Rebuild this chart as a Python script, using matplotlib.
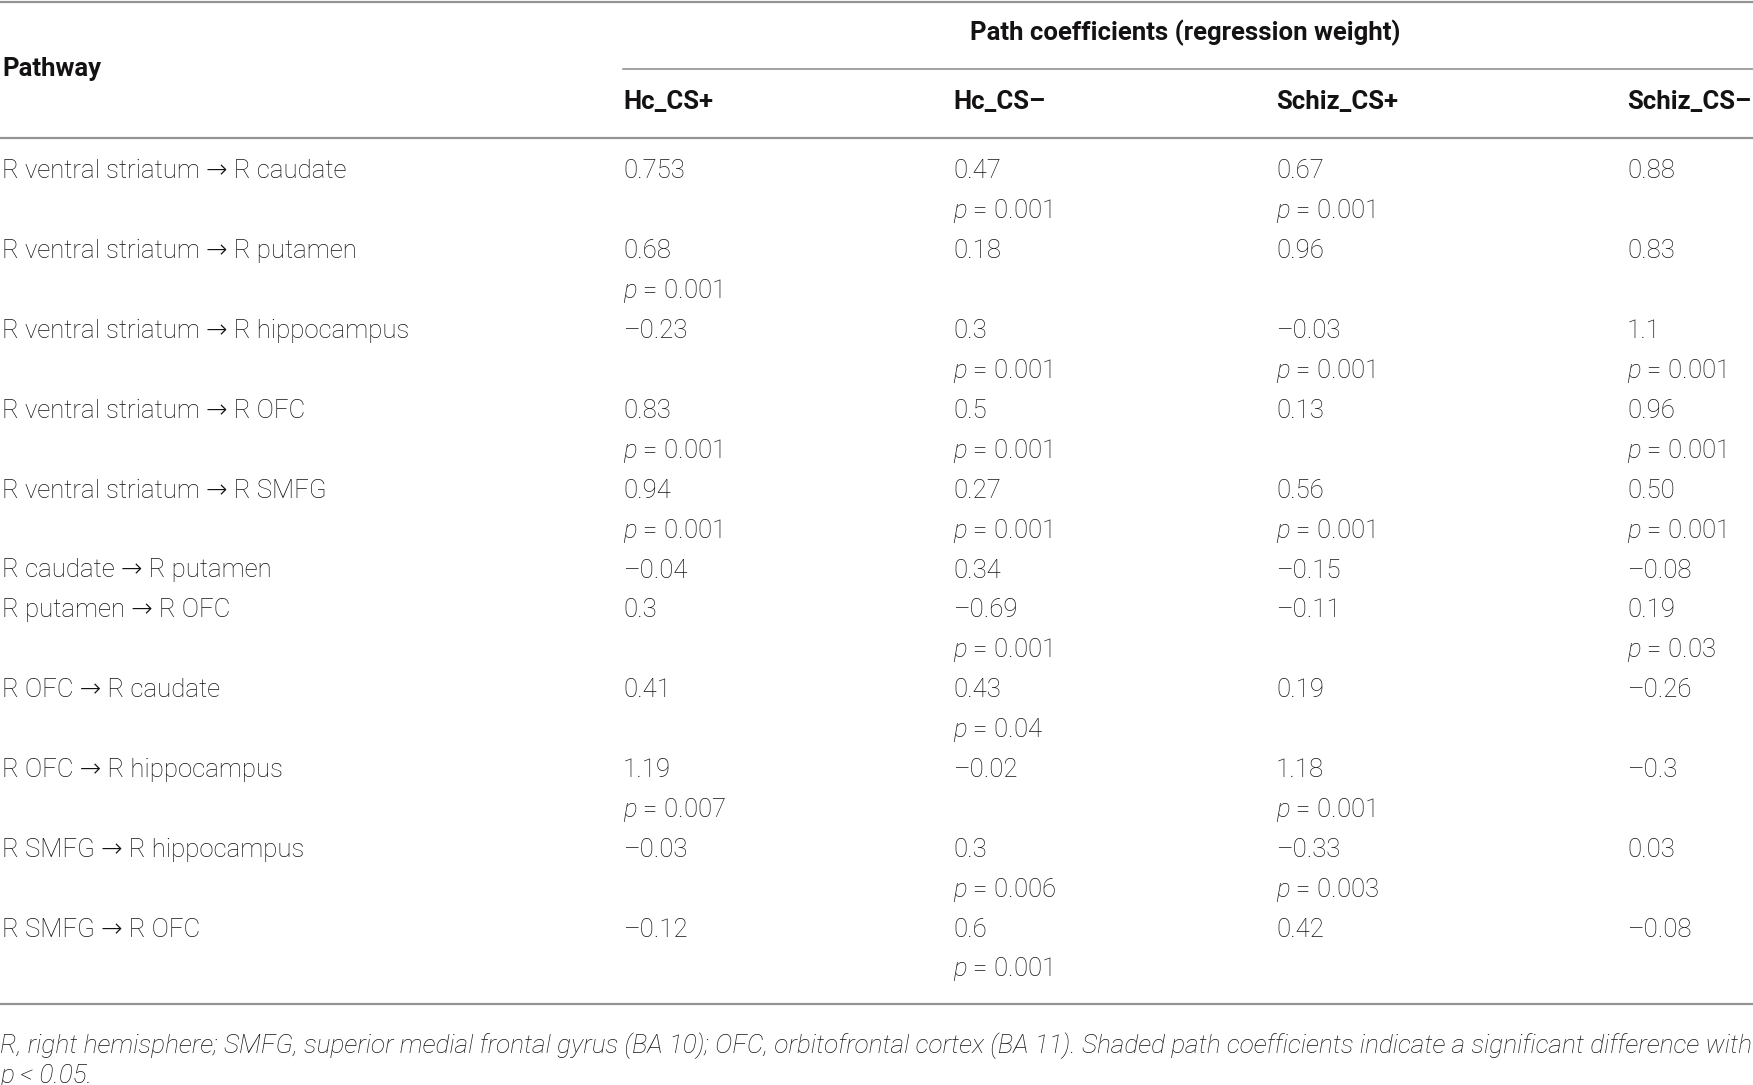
import matplotlib
matplotlib.use('Agg')
import matplotlib.pyplot as plt

plt.rcParams['font.family'] = ['Roboto', 'DejaVu Sans']
plt.rcParams['mathtext.fontset'] = 'custom'
plt.rcParams['mathtext.it'] = 'Roboto:italic:light'
plt.rcParams['mathtext.rm'] = 'Roboto:light'

# table content
pathways = ['R ventral striatum \u2192 R caudate',
            'R ventral striatum \u2192 R putamen',
            'R ventral striatum \u2192 R hippocampus',
            'R ventral striatum \u2192 R OFC',
            'R ventral striatum \u2192 R SMFG',
            'R caudate \u2192 R putamen',
            'R putamen \u2192 R OFC',
            'R OFC \u2192 R caudate',
            'R OFC \u2192 R hippocampus',
            'R SMFG \u2192 R hippocampus',
            'R SMFG \u2192 R OFC']
groups = ['Hc_CS+', 'Hc_CS\u2013', 'Schiz_CS+', 'Schiz_CS\u2013']

hc_plus = ['0.753', '0.68', '\u20130.23', '0.83', '0.94', '\u20130.04', '0.3', '0.41', '1.19', '\u20130.03', '\u20130.12']
hc_plus_p = [None, '0.001', None, '0.001', '0.001', None, None, None, '0.007', None, None]
hc_minus = ['0.47', '0.18', '0.3', '0.5', '0.27', '0.34', '\u20130.69', '0.43', '\u20130.02', '0.3', '0.6']
hc_minus_p = ['0.001', None, '0.001', '0.001', '0.001', None, '0.001', '0.04', None, '0.006', '0.001']
sz_plus = ['0.67', '0.96', '\u20130.03', '0.13', '0.56', '\u20130.15', '\u20130.11', '0.19', '1.18', '\u20130.33', '0.42']
sz_plus_p = ['0.001', None, '0.001', None, '0.001', None, None, None, '0.001', '0.003', None]
sz_minus = ['0.88', '0.83', '1.1', '0.96', '0.50', '\u20130.08', '0.19', '\u20130.26', '\u20130.3', '0.03', '\u20130.08']
sz_minus_p = [None, None, '0.001', '0.001', '0.001', None, '0.03', None, None, None, None]

coefs = [hc_plus, hc_minus, sz_plus, sz_minus]
pvals = [hc_plus_p, hc_minus_p, sz_plus_p, sz_minus_p]

txt = '#141213'
rule = '#949494'
fs = 18.5

fig = plt.figure(figsize=(17.53, 10.85), dpi=100)
ax = fig.add_axes([0, 0, 1, 1])
ax.set_xlim(0, 1753)
ax.set_ylim(1085, 0)
ax.axis('off')

col_x = [623, 953, 1276, 1627]
line_h = 39.9

# rules
ax.plot([0, 1753], [2, 2], color=rule, lw=1.6)
ax.plot([623, 1753], [69, 69], color=rule, lw=1.2)
ax.plot([0, 1753], [137.5, 137.5], color=rule, lw=1.6)
ax.plot([0, 1753], [1004, 1004], color=rule, lw=1.6)

# headers
ax.text(2, 69, 'Pathway', fontsize=fs, fontweight='bold', color=txt, va='center', ha='left')
ax.text(1185, 33, 'Path coefficients (regression weight)', fontsize=fs, fontweight='bold',
        color=txt, va='center', ha='center')
for x, g in zip(col_x, groups):
    ax.text(x, 101.5, g, fontsize=fs, fontweight='bold', color=txt, va='center', ha='left')

# body
y = 171.5
for i, name in enumerate(pathways):
    ax.text(2, y, name, fontsize=fs, fontweight='light', color=txt, va='center', ha='left')
    has_p = False
    for x, c, p in zip(col_x, coefs, pvals):
        ax.text(x, y, c[i], fontsize=fs, fontweight='light', color=txt, va='center', ha='left')
        if p[i] is not None:
            has_p = True
            ax.text(x, y + line_h, '$p$ = ' + p[i], fontsize=fs, fontweight='light', color=txt,
                    va='center', ha='left')
    y += 2 * line_h if has_p else line_h

# footnote
ax.text(0, 1046, 'R, right hemisphere; SMFG, superior medial frontal gyrus (BA 10); OFC, orbitofrontal cortex (BA 11). '
        'Shaded path coefficients indicate a significant difference with',
        fontsize=18.9, fontstyle='italic', fontweight='light', color=txt, va='center', ha='left')
ax.text(0, 1076, 'p < 0.05.', fontsize=18.9, fontstyle='italic', fontweight='light', color=txt,
        va='center', ha='left')

fig.savefig('out.png', dpi=100, facecolor='white')
